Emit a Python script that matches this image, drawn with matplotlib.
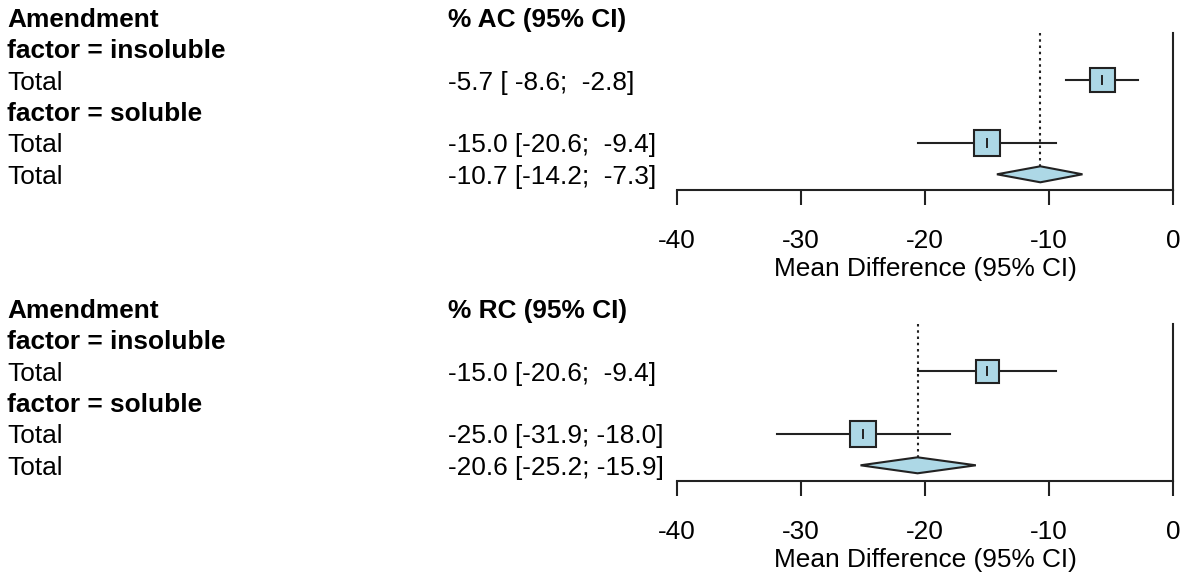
import matplotlib.pyplot as plt
from matplotlib.patches import Rectangle, Polygon
from matplotlib.transforms import blended_transform_factory

plt.rcParams['font.family'] = ['Liberation Sans', 'DejaVu Sans']
plt.rcParams['axes.unicode_minus'] = False

# ---- data ----
group_names = ["factor = insoluble", "factor = soluble"]
outcome_titles = ["% AC (95% CI)", "% RC (95% CI)"]

ac_mean = [-5.7, -15.0]
ac_lower = [-8.6, -20.6]
ac_upper = [-2.8, -9.4]
ac_total = [-10.7, -14.2, -7.3]   # mean, lower, upper

rc_mean = [-15.0, -25.0]
rc_lower = [-20.6, -31.9]
rc_upper = [-9.4, -18.0]
rc_total = [-20.6, -25.2, -15.9]

x_ticks = [-40, -30, -20, -10, 0]

# box size in pixels (weights)
box_px = [[24.5, 26], [23, 26]]

line_c = '#222222'
fill_c = '#add8e6'
fs = 18.9
W, H = 1181, 579

fig = plt.figure(figsize=(W / 100, H / 100), dpi=100)

def fmt(m, lo, hi):
    return f"{m:.1f} [{lo:5.1f}; {hi:5.1f}]"

def panel(top_px, title, means, lows, highs, total, sizes):
    ax = fig.add_axes([677 / W, (H - top_px - 157) / H, 496 / W, 157 / H])
    ax.set_xlim(-40, 0)
    ax.set_ylim(5.5, 0.5)
    px_x = 496 / 40.0   # pixels per unit
    px_y = 157 / 5.0    # pixels per row

    tr = blended_transform_factory(fig.transFigure, ax.transData)
    xl, xv = 7 / W, 448 / W
    kw = dict(transform=tr, fontsize=fs, va='center_baseline', clip_on=False)
    ax.text(xl, 0, "Amendment", fontweight='bold', **kw)
    ax.text(xv, 0, title, fontweight='bold', **kw)

    rows = [2, 4]
    for i in range(2):
        ax.text(xl, rows[i] - 1, group_names[i], fontweight='bold', **kw)
        ax.text(xl, rows[i], "Total", **kw)
        ax.text(xv, rows[i], fmt(means[i], lows[i], highs[i]), **kw)
        ax.plot([lows[i], highs[i]], [rows[i], rows[i]], color=line_c, lw=1.5, clip_on=False, zorder=2)
        w = sizes[i] / px_x
        h = sizes[i] / px_y
        ax.add_patch(Rectangle((means[i] - w / 2, rows[i] - h / 2), w, h, facecolor=fill_c,
                               edgecolor=line_c, lw=1.5, zorder=3, clip_on=False))
        ax.plot([means[i], means[i]], [rows[i] - 0.12, rows[i] + 0.12], color=line_c, lw=1.4, zorder=4)

    ax.text(xl, 5, "Total", **kw)
    ax.text(xv, 5, fmt(*total), **kw)
    m, lo, hi = total
    dh = 8 / px_y
    ax.add_patch(Polygon([(lo, 5), (m, 5 - dh), (hi, 5), (m, 5 + dh)], closed=True,
                         facecolor=fill_c, edgecolor=line_c, lw=1.5, zorder=3, clip_on=False))
    ax.plot([m, m], [0.5, 5 - dh], color=line_c, lw=1.5, ls=(0, (1.2, 1.8)), zorder=1)

    for s in ['left', 'top']:
        ax.spines[s].set_visible(False)
    for s in ['bottom', 'right']:
        ax.spines[s].set_linewidth(1.5)
        ax.spines[s].set_color(line_c)
    ax.set_yticks([])
    ax.set_xticks(x_ticks)
    ax.set_xticklabels([str(t) for t in x_ticks])
    ax.tick_params(axis='x', length=11, width=1.5, color=line_c, labelsize=fs, pad=17)
    ax.set_xlabel("Mean Difference (95% CI)", fontsize=fs, labelpad=3)
    ax.patch.set_visible(False)
    return ax

panel(33, outcome_titles[0], ac_mean, ac_lower, ac_upper, ac_total, box_px[0])
panel(324, outcome_titles[1], rc_mean, rc_lower, rc_upper, rc_total, box_px[1])

fig.savefig("out.png", dpi=100)
